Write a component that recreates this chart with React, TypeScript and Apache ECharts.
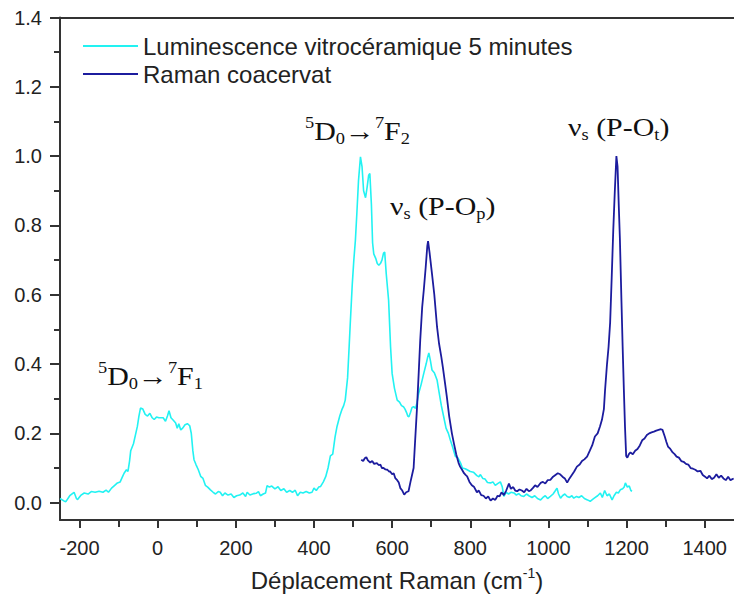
import React, { useEffect, useRef } from 'react';
import * as echarts from 'echarts';

// Luminescence vitrocéramique 5 minutes (cyan)
const lumX = [-250, -240, -235, -225, -214, -208, -205, -196, -188, -178, -170, -160, -150, -140, -132, -126, -118, -110, -103, -96, -90, -86, -80, -76, -72, -69, -62, -56, -52, -48, -44, -38, -32, -26, -20, -14, -9, -3, 3, 8, 14, 20, 25, 29, 34, 40, 46, 50, 54, 59, 64, 70, 76, 82, 86, 90, 93, 98, 104, 110, 116, 122, 128, 135, 142, 148, 155, 160, 166, 172, 180, 188, 195, 202, 210, 218, 225, 229, 236, 245, 252, 258, 263, 270, 276, 280, 286, 292, 300, 308, 315, 323, 330, 338, 345, 352, 358, 365, 372, 380, 388, 395, 400, 406, 412, 417, 424, 430, 436, 442, 448, 454, 459, 466, 472, 476, 480, 486, 490, 493, 498, 502, 506, 510, 514, 519, 523, 527, 532, 536, 540, 543, 547, 550, 553, 558, 562, 566, 570, 574, 578, 581, 585, 591, 596, 600, 606, 613, 619, 624, 629, 633, 637, 640, 643, 647, 651, 655, 660, 664, 668, 674, 681, 687, 691, 694, 698, 702, 708, 715, 720, 726, 732, 738, 744, 749, 755, 762, 768, 775, 780, 787, 792, 800, 808, 817, 822, 826, 832, 838, 844, 852, 858, 864, 870, 877, 882, 886, 892, 898, 904, 912, 918, 924, 930, 937, 944, 950, 958, 965, 972, 980, 986, 992, 998, 1005, 1012, 1018, 1022, 1026, 1031, 1036, 1042, 1048, 1054, 1060, 1065, 1072, 1078, 1085, 1092, 1100, 1107, 1114, 1120, 1126, 1133, 1138, 1144, 1150, 1156, 1163, 1168, 1174, 1179, 1184, 1190, 1194, 1197, 1202, 1207, 1211, 1214];
const lumY = [0.012, 0.005, 0.003, 0.02, 0.03, 0.012, 0.009, 0.022, 0.028, 0.025, 0.032, 0.03, 0.033, 0.03, 0.036, 0.03, 0.042, 0.05, 0.057, 0.06, 0.075, 0.085, 0.095, 0.09, 0.12, 0.15, 0.17, 0.2, 0.22, 0.25, 0.273, 0.27, 0.255, 0.25, 0.258, 0.245, 0.24, 0.247, 0.245, 0.245, 0.245, 0.235, 0.25, 0.265, 0.245, 0.238, 0.23, 0.215, 0.228, 0.21, 0.215, 0.225, 0.228, 0.222, 0.2, 0.15, 0.124, 0.11, 0.095, 0.076, 0.07, 0.05, 0.045, 0.037, 0.03, 0.025, 0.032, 0.03, 0.02, 0.028, 0.022, 0.025, 0.015, 0.02, 0.022, 0.028, 0.018, 0.03, 0.022, 0.026, 0.027, 0.032, 0.02, 0.025, 0.028, 0.049, 0.045, 0.048, 0.04, 0.046, 0.035, 0.04, 0.03, 0.035, 0.03, 0.036, 0.02, 0.03, 0.028, 0.032, 0.028, 0.03, 0.042, 0.035, 0.045, 0.047, 0.06, 0.075, 0.1, 0.135, 0.14, 0.19, 0.22, 0.25, 0.27, 0.28, 0.296, 0.36, 0.45, 0.52, 0.63, 0.7, 0.757, 0.84, 0.93, 0.998, 0.97, 0.9, 0.88, 0.91, 0.945, 0.95, 0.86, 0.75, 0.718, 0.705, 0.69, 0.685, 0.69, 0.7, 0.72, 0.723, 0.66, 0.584, 0.45, 0.373, 0.33, 0.296, 0.29, 0.28, 0.277, 0.27, 0.26, 0.25, 0.248, 0.26, 0.275, 0.277, 0.272, 0.29, 0.316, 0.34, 0.373, 0.4, 0.42, 0.432, 0.41, 0.383, 0.375, 0.354, 0.32, 0.28, 0.248, 0.215, 0.2, 0.181, 0.16, 0.133, 0.13, 0.115, 0.1, 0.098, 0.095, 0.09, 0.088, 0.078, 0.075, 0.081, 0.07, 0.068, 0.058, 0.057, 0.06, 0.05, 0.055, 0.06, 0.045, 0.018, 0.03, 0.025, 0.03, 0.028, 0.022, 0.026, 0.02, 0.018, 0.025, 0.02, 0.015, 0.02, 0.012, 0.008, 0.015, 0.02, 0.012, 0.018, 0.025, 0.035, 0.042, 0.025, 0.013, 0.02, 0.025, 0.018, 0.015, 0.02, 0.013, 0.018, 0.015, 0.02, 0.012, 0.008, 0.004, 0.01, 0.015, 0.02, 0.028, 0.015, 0.035, 0.02, 0.025, 0.008, 0.02, 0.03, 0.028, 0.037, 0.04, 0.045, 0.057, 0.045, 0.048, 0.035, 0.033];

// Raman coacervat (navy)
const ramX = [521, 526, 530, 534, 538, 544, 549, 554, 561, 566, 570, 574, 578, 583, 588, 592, 595, 600, 604, 608, 613, 617, 621, 626, 631, 636, 642, 647, 651, 655, 659, 664, 668, 672, 677, 681, 686, 690, 692, 696, 702, 708, 715, 720, 726, 730, 732, 736, 740, 746, 753, 758, 764, 770, 774, 779, 784, 788, 792, 798, 804, 810, 817, 822, 828, 834, 840, 846, 852, 858, 864, 870, 875, 880, 886, 892, 899, 904, 910, 915, 920, 926, 932, 938, 944, 950, 954, 960, 966, 972, 980, 986, 992, 998, 1005, 1012, 1018, 1024, 1030, 1036, 1042, 1048, 1054, 1060, 1066, 1073, 1080, 1086, 1092, 1099, 1106, 1112, 1119, 1126, 1132, 1137, 1142, 1145, 1150, 1154, 1158, 1162, 1166, 1170, 1174, 1177, 1180, 1183, 1187, 1190, 1193, 1196, 1199, 1202, 1206, 1210, 1216, 1222, 1228, 1234, 1240, 1246, 1252, 1258, 1264, 1270, 1276, 1282, 1288, 1292, 1298, 1302, 1306, 1312, 1318, 1323, 1328, 1334, 1340, 1346, 1352, 1358, 1364, 1370, 1376, 1382, 1389, 1395, 1401, 1406, 1412, 1418, 1424, 1430, 1436, 1442, 1448, 1454, 1460, 1466, 1474];
const ramY = [0.124, 0.12, 0.128, 0.131, 0.122, 0.116, 0.12, 0.112, 0.114, 0.108, 0.11, 0.1, 0.1, 0.096, 0.095, 0.09, 0.09, 0.082, 0.085, 0.071, 0.065, 0.058, 0.042, 0.035, 0.023, 0.03, 0.033, 0.06, 0.08, 0.1, 0.181, 0.28, 0.373, 0.47, 0.565, 0.613, 0.68, 0.74, 0.755, 0.72, 0.661, 0.6, 0.507, 0.46, 0.42, 0.39, 0.373, 0.34, 0.306, 0.25, 0.2, 0.172, 0.14, 0.115, 0.104, 0.095, 0.085, 0.08, 0.076, 0.06, 0.05, 0.045, 0.03, 0.035, 0.022, 0.02, 0.012, 0.018, 0.006, 0.012, 0.008, 0.02, 0.018, 0.03, 0.022, 0.035, 0.055, 0.04, 0.045, 0.035, 0.033, 0.038, 0.035, 0.03, 0.04, 0.033, 0.035, 0.042, 0.05, 0.045, 0.057, 0.06, 0.055, 0.065, 0.066, 0.075, 0.08, 0.085, 0.082, 0.075, 0.07, 0.058, 0.07, 0.08, 0.09, 0.104, 0.11, 0.12, 0.125, 0.133, 0.15, 0.165, 0.191, 0.2, 0.22, 0.239, 0.27, 0.325, 0.4, 0.45, 0.52, 0.65, 0.786, 0.9, 1.0, 0.97, 0.86, 0.76, 0.58, 0.45, 0.33, 0.22, 0.135, 0.13, 0.14, 0.145, 0.14, 0.15, 0.155, 0.165, 0.18, 0.185, 0.195, 0.2, 0.203, 0.205, 0.208, 0.21, 0.212, 0.21, 0.19, 0.175, 0.162, 0.155, 0.145, 0.14, 0.133, 0.13, 0.12, 0.118, 0.112, 0.11, 0.1, 0.098, 0.095, 0.09, 0.092, 0.08, 0.075, 0.07, 0.078, 0.068, 0.072, 0.082, 0.072, 0.078, 0.07, 0.065, 0.075, 0.065, 0.07];

const seriesNames = ['Luminescence vitrocéramique 5 minutes', 'Raman coacervat'];
const seriesColors = ['#22f2f2', '#1c1c9e'];

// axis ranges / ticks
const xRange = [-250, 1475];
const yRange = [-0.05, 1.4];
const xTickRange = [-200, 1400];
const xTickStep = 200;
const yTickRange = [0, 1.4];
const yTickStep = 0.2;

const sans = "'Liberation Sans', Arial, sans-serif";
const serif = "'Liberation Serif', 'Times New Roman', serif";

// Peak annotations: [rich text, x, y]
const annotations: [string, number, number][] = [
  ['{sup|5}{n|D}{sub|0}{n|→}{sup|7}{n|F}{sub|1}', 98, 376],
  ['{sup|5}{n|D}{sub|0}{n|→}{sup|7}{n|F}{sub|2}', 305, 131],
  ['{n|ν}{sub|s}{n| (P-O}{sub|p}{n|)}', 390, 206],
  ['{n|ν}{sub|s}{n| (P-O}{sub|t}{n|)}', 568, 127],
];

const zip = (xs: number[], ys: number[]) => xs.map((x, i) => [x, ys[i]]);

export default function App() {
  const ref = useRef<HTMLDivElement>(null);
  useEffect(() => {
    if (!ref.current) return;
    const chart = echarts.init(ref.current, null, { renderer: 'svg' });
    const W = 734, H = 608;
    const gl = 60, gr = 0, gt = 17.5, gb = 88;
    const pw = W - gl - gr, ph = H - gt - gb;
    const xPx = (v: number) => gl + ((v - xRange[0]) / (xRange[1] - xRange[0])) * pw;
    const yPx = (v: number) => gt + ((yRange[1] - v) / (yRange[1] - yRange[0])) * ph;
    const g2l = xPx(xTickRange[0]);
    const g2r = W - xPx(xTickRange[1]);
    const g2t = yPx(yTickRange[1]);
    const g2b = H - yPx(yTickRange[0]);
    const axisColor = '#333';
    const textColor = '#222';
    const rich = {
      n: { fontSize: 26, fontFamily: serif, fill: '#111', lineHeight: 32, verticalAlign: 'middle' },
      sup: { fontSize: 16, fontFamily: serif, fill: '#111', lineHeight: 32, verticalAlign: 'top' },
      sub: { fontSize: 16, fontFamily: serif, fill: '#111', lineHeight: 32, verticalAlign: 'bottom' },
    };
    chart.setOption({
      animation: false,
      backgroundColor: '#fff',
      grid: [
        { left: gl, right: gr, top: gt, bottom: gb },
        { left: g2l, right: g2r, top: g2t, bottom: g2b },
      ],
      legend: {
        data: seriesNames,
        orient: 'vertical',
        left: 78,
        top: 29,
        icon: 'rect',
        itemWidth: 55,
        itemHeight: 2,
        itemGap: 4,
        textStyle: { fontSize: 24, lineHeight: 24, fontFamily: sans, color: textColor },
      },
      xAxis: [
        {
          gridIndex: 0, type: 'value', min: xRange[0], max: xRange[1],
          axisLine: { show: true, onZero: false, lineStyle: { color: axisColor, width: 2 } },
          axisTick: { show: false }, axisLabel: { show: false }, splitLine: { show: false },
          name: '{a|Déplacement Raman (cm}{s|-1}{a|)}',
          nameLocation: 'middle', nameGap: 46,
          nameTextStyle: {
            rich: {
              a: { fontSize: 24, fontFamily: sans, color: textColor, lineHeight: 28, verticalAlign: 'middle' },
              s: { fontSize: 14, fontFamily: sans, color: textColor, lineHeight: 28, verticalAlign: 'top' },
            },
          },
        },
        {
          gridIndex: 0, type: 'value', position: 'top', min: xRange[0], max: xRange[1],
          axisLine: { show: true, onZero: false, lineStyle: { color: axisColor, width: 2 } },
          axisTick: { show: false }, axisLabel: { show: false }, splitLine: { show: false },
        },
        {
          gridIndex: 1, type: 'value', min: xTickRange[0], max: xTickRange[1], interval: xTickStep,
          offset: g2b - gb,
          axisLine: { show: false, onZero: false },
          axisTick: { show: true, length: 8, lineStyle: { color: axisColor, width: 2 } },
          minorTick: { show: true, splitNumber: 2, length: 7, lineStyle: { color: axisColor, width: 2 } },
          axisLabel: { fontSize: 20, fontFamily: sans, color: textColor, margin: 18, formatter: (v: number) => String(v) },
          splitLine: { show: false },
        },
      ],
      yAxis: [
        {
          gridIndex: 0, type: 'value', min: yRange[0], max: yRange[1],
          axisLine: { show: true, onZero: false, lineStyle: { color: axisColor, width: 2 } },
          axisTick: { show: false }, axisLabel: { show: false }, splitLine: { show: false },
        },
        {
          gridIndex: 1, type: 'value', min: yTickRange[0], max: yTickRange[1], interval: yTickStep,
          offset: g2l - gl,
          axisLine: { show: false, onZero: false },
          axisTick: { show: true, length: 10, lineStyle: { color: axisColor, width: 2 } },
          minorTick: { show: true, splitNumber: 2, length: 6, lineStyle: { color: axisColor, width: 2 } },
          axisLabel: { fontSize: 20, fontFamily: sans, color: textColor, margin: 18, formatter: (v: number) => v.toFixed(1) },
          splitLine: { show: false },
        },
      ],
      series: [
        {
          name: seriesNames[0], type: 'line', xAxisIndex: 0, yAxisIndex: 0,
          data: zip(lumX, lumY), showSymbol: false, symbol: 'none',
          lineStyle: { color: seriesColors[0], width: 1.6 }, itemStyle: { color: seriesColors[0] },
          z: 2,
        },
        {
          name: seriesNames[1], type: 'line', xAxisIndex: 0, yAxisIndex: 0,
          data: zip(ramX, ramY), showSymbol: false, symbol: 'none',
          lineStyle: { color: seriesColors[1], width: 1.8 }, itemStyle: { color: seriesColors[1] },
          z: 3,
        },
      ],
      graphic: annotations.map(([t, x, y]) => ({
        type: 'text', x, y, scaleX: 1.15, scaleY: 1,
        style: { text: t, rich, verticalAlign: 'middle', align: 'left' },
        z: 10,
      })),
    });
    return () => chart.dispose();
  }, []);
  return <div ref={ref} style={{ position: 'fixed', left: 0, top: 0, width: 734, height: 608 }} />;
}
